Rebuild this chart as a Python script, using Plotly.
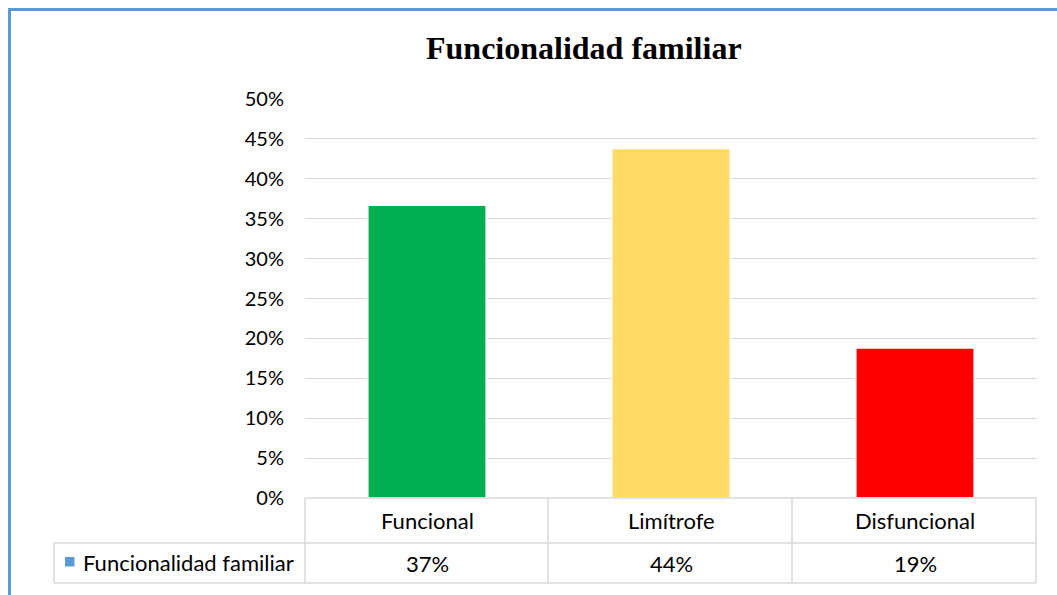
import plotly.graph_objects as go

categories = ["Funcional", "Limítrofe", "Disfuncional"]
values = [0.367, 0.438, 0.188]
colors = ["#00B050", "#FFD966", "#FF0000"]
series_name = "Funcionalidad familiar"
title = "Funcionalidad familiar"

W, H = 1057, 595
L, R, T, B = 305, 1037, 99, 498
GRID = "#D9D9D9"
FONT = "Lato, Open Sans, sans-serif"


def px(x):
    return (x - L) / (R - L)


def py(y):
    return (B - y) / (B - T)


fig = go.Figure()
fig.add_bar(
    x=categories,
    y=values,
    marker=dict(color=colors, line=dict(color="white", width=1.5)),
    width=0.485,
    name=series_name,
    showlegend=False,
)

fig.update_layout(
    width=W,
    height=H,
    margin=dict(l=L, r=W - R, t=T, b=H - B),
    plot_bgcolor="white",
    paper_bgcolor="white",
    font=dict(family=FONT, size=22, color="#000000"),
    xaxis=dict(showticklabels=False, showgrid=False, zeroline=False,
               showline=False, ticks=""),
    yaxis=dict(range=[0, 0.5], dtick=0.05, tickformat=".0%",
               tickfont=dict(size=20),
               showgrid=True, gridcolor=GRID, gridwidth=1,
               zeroline=False, showline=False, ticklabelstandoff=20),
)

shapes = []


def hline(x0, x1, y, color=GRID, width=1.5):
    shapes.append(dict(type="line", xref="paper", yref="paper",
                       x0=px(x0), x1=px(x1), y0=py(y), y1=py(y),
                       line=dict(color=color, width=width)))


def vline(x, y0, y1, color=GRID, width=1.5):
    shapes.append(dict(type="line", xref="paper", yref="paper",
                       x0=px(x), x1=px(x), y0=py(y0), y1=py(y1),
                       line=dict(color=color, width=width)))


# data table grid
hline(305, 1036, 498)
hline(54, 1036, 543)
hline(54, 1036, 583)
vline(54, 543, 583)
for xx in [305, 548, 792, 1036]:
    vline(xx, 498, 583)

# chart border
hline(8, 1060, 9.5, color="#5B9BD5", width=3)
vline(9.5, 8, 600, color="#5B9BD5", width=3)

# legend key
shapes.append(dict(type="rect", xref="paper", yref="paper",
                   x0=px(65), x1=px(74.5), y0=py(557), y1=py(566.5),
                   fillcolor="#5B9BD5", line=dict(width=0)))

fig.update_layout(shapes=shapes)

annotations = [
    dict(text="<b>" + title + "</b>", xref="paper", yref="paper",
         x=px(584), y=py(48), showarrow=False, yanchor="middle",
         font=dict(family="Liberation Serif, Times New Roman, serif", size=32)),
    dict(text=series_name, xref="paper", yref="paper",
         x=px(81), y=py(562), xanchor="left", yanchor="middle",
         showarrow=False),
]
for c, v in zip(categories, values):
    annotations.append(dict(text=c, xref="x", yref="paper", x=c, y=py(520),
                            yanchor="middle", showarrow=False))
    annotations.append(dict(text=f"{round(v * 100)}%", xref="x", yref="paper",
                            x=c, y=py(563), yanchor="middle", showarrow=False))
fig.update_layout(annotations=annotations)

fig.write_html("out.html", config={"displayModeBar": False},
               post_script="document.body.style.margin='0';")
